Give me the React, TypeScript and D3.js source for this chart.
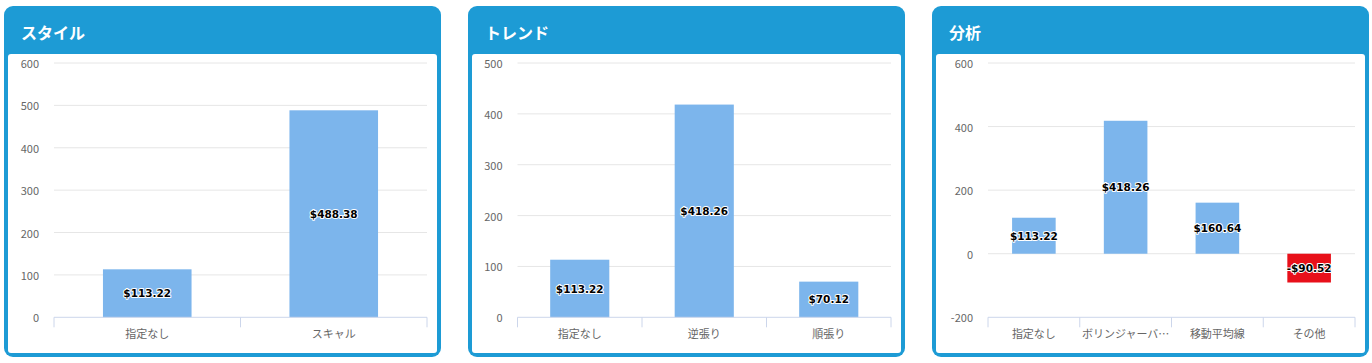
import React from "react";
import * as d3 from "d3";

const titles = ["スタイル", "トレンド", "分析"];

const styleCategories = ["指定なし", "スキャル"];
const styleValues = [113.22, 488.38];
const styleTicks = [0, 100, 200, 300, 400, 500, 600];

const trendCategories = ["指定なし", "逆張り", "順張り"];
const trendValues = [113.22, 418.26, 70.12];
const trendTicks = [0, 100, 200, 300, 400, 500];

const analysisCategories = ["指定なし", "ボリンジャーバンド", "移動平均線", "その他"];
const analysisValues = [113.22, 418.26, 160.64, -90.52];
const analysisTicks = [-200, 0, 200, 400, 600];

const BLUE = "#1d9bd5";
const BAR = "#7cb5ec";
const NEG = "#e8101a";
const FONT = "'Noto Sans CJK JP', 'Noto Sans', sans-serif";

type PanelProps = {
  x0: number;
  title: string;
  categories: string[];
  values: number[];
  ticks: number[];
  plotLeft: number;
};

function fmt(v: number) {
  return (v < 0 ? "-$" : "$") + Math.abs(v).toFixed(2);
}

function truncate(label: string, width: number) {
  const max = Math.floor((width - 10) / 11);
  if (label.length * 11 <= width - 4) return label;
  return label.slice(0, max) + "…";
}

function Panel({ x0, title, categories, values, ticks, plotLeft }: PanelProps) {
  const W = 437;
  const top = 6;
  const bottom = 357;
  const plotTop = 63;
  const plotBottom = 317.3;
  const left = x0 + plotLeft;
  const right = x0 + 423;
  const y = d3
    .scaleLinear()
    .domain([ticks[0], ticks[ticks.length - 1]])
    .range([plotBottom, plotTop]);
  const x = d3.scaleBand<string>().domain(categories).range([left, right]).padding(0);
  const bw = x.bandwidth() * 0.475;
  const boundaries = [...categories.map((c) => x(c) as number), right];
  return (
    <g>
      <rect x={x0} y={top} width={W} height={bottom - top} rx={9} ry={9} fill={BLUE} />
      <rect x={x0 + 4} y={54} width={W - 8} height={bottom - 4 - 54} rx={3} ry={3} fill="#fff" />
      <text
        x={x0 + 17}
        y={32}
        fill="#fff"
        fontFamily={FONT}
        fontWeight="bold"
        fontSize={16}
        dominantBaseline="central"
      >
        {title}
      </text>
      {ticks.map((t) => (
        <g key={t}>
          {(t !== ticks[0]) && (
            <line x1={left} x2={right} y1={y(t)} y2={y(t)} stroke="#e6e6e6" strokeWidth={1} />
          )}
          <text
            x={left - 15}
            y={y(t)}
            textAnchor="end"
            dominantBaseline="central"
            fontFamily={FONT}
            fontSize={11}
            fill="#666"
          >
            {t}
          </text>
        </g>
      ))}
      {categories.map((c, i) => {
        const v = values[i];
        const y0 = y(0);
        const y1 = y(v);
        const bx = (x(c) as number) + (x.bandwidth() - bw) / 2;
        return (
          <rect
            key={c}
            x={bx}
            y={Math.min(y0, y1)}
            width={bw}
            height={Math.abs(y1 - y0)}
            fill={v < 0 ? NEG : BAR}
          />
        );
      })}
      <line x1={left} x2={right} y1={plotBottom} y2={plotBottom} stroke="#ccd6eb" strokeWidth={1} />
      {boundaries.map((bxp, i) => (
        <line key={i} x1={bxp} x2={bxp} y1={plotBottom} y2={plotBottom + 10} stroke="#ccd6eb" strokeWidth={1} />
      ))}
      {categories.map((c) => (
        <text
          key={c}
          x={(x(c) as number) + x.bandwidth() / 2}
          y={333}
          textAnchor="middle"
          dominantBaseline="central"
          fontFamily={FONT}
          fontSize={11}
          fill="#666"
        >
          {truncate(c, x.bandwidth())}
        </text>
      ))}
      {categories.map((c, i) => {
        const v = values[i];
        const cy = (y(0) + y(v)) / 2;
        return (
          <text
            key={c}
            x={(x(c) as number) + x.bandwidth() / 2}
            y={cy}
            textAnchor="middle"
            dominantBaseline="central"
            fontFamily="'DejaVu Sans', sans-serif"
            fontWeight="bold"
            fontSize={10.5}
            fill="#000"
            stroke="#fff"
            strokeWidth={2}
            strokeLinejoin="round"
            paintOrder="stroke"
          >
            {fmt(v)}
          </text>
        );
      })}
    </g>
  );
}

export default function App() {
  return (
    <div style={{ position: "absolute", left: 0, top: 0 }}>
      <svg width={1372} height={363} style={{ display: "block" }}>
        <rect width={1372} height={363} fill="#fff" />
        <Panel x0={4} title={titles[0]} categories={styleCategories} values={styleValues} ticks={styleTicks} plotLeft={50} />
        <Panel x0={468} title={titles[1]} categories={trendCategories} values={trendValues} ticks={trendTicks} plotLeft={49.5} />
        <Panel x0={932} title={titles[2]} categories={analysisCategories} values={analysisValues} ticks={analysisTicks} plotLeft={56} />
      </svg>
    </div>
  );
}
